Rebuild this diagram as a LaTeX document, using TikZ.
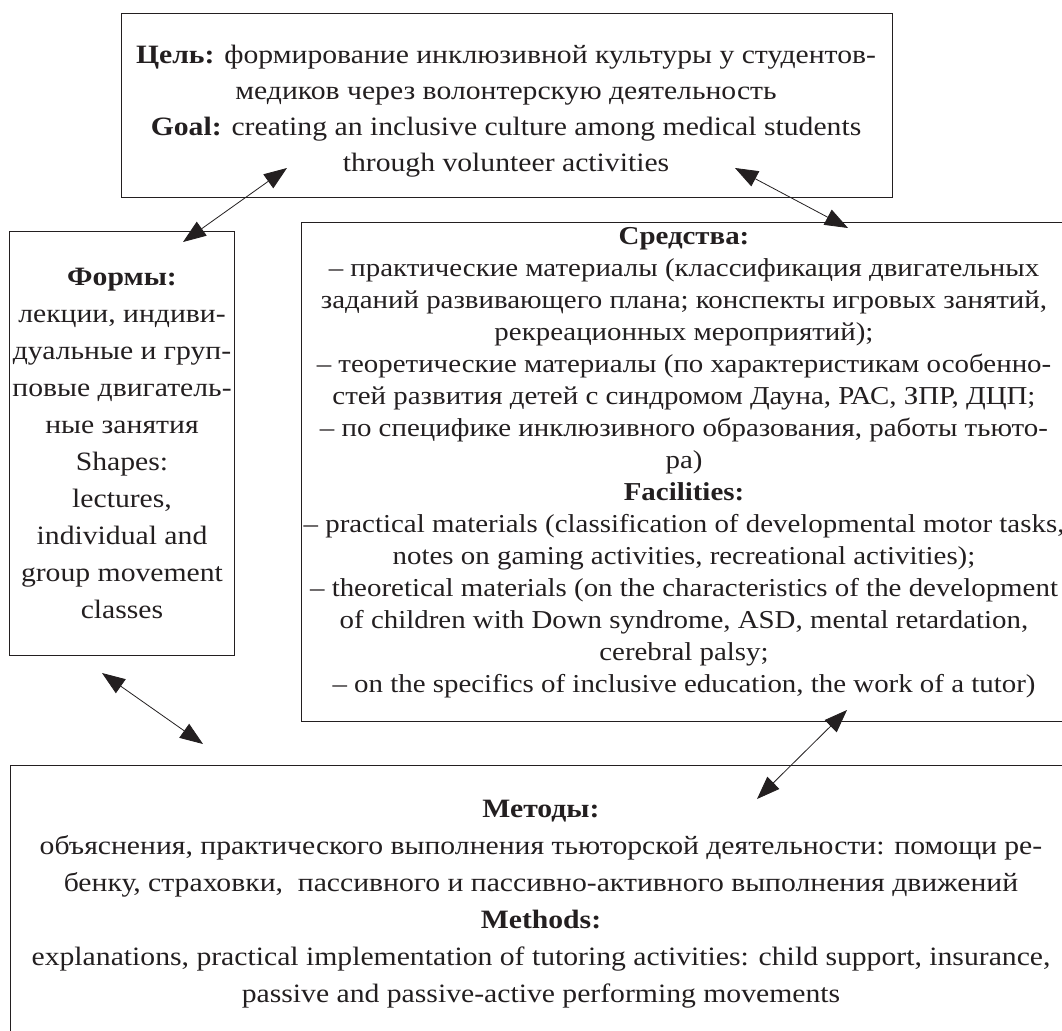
\documentclass[tikz,border=0pt]{standalone}
\usepackage{fontspec}
\setmainfont[FakeStretch=1.12]{Liberation Serif}
\usetikzlibrary{arrows.meta}
\definecolor{ink}{HTML}{231F20}
\begin{document}
\begin{tikzpicture}[x=1pt,y=-1pt,
  box/.style={draw=ink, line width=1.1pt, inner sep=0pt, anchor=north west},
  txt/.style={inner sep=0pt, align=center, text=ink, anchor=north},
  dbl/.style={line width=0.8pt, draw=ink,
    {Triangle[length=23pt,width=17pt]}-{Triangle[length=23pt,width=17pt]}}]
\useasboundingbox (0,0) rectangle (1062,1030);
\clip (0,0) rectangle (1062,1030);
\fill[white] (0,0) rectangle (1062,1030);
% boxes
\node[box, minimum width=771pt, minimum height=184pt] (goalbox) at (121,13) {};
\node[box, minimum width=225pt, minimum height=424pt] (formbox) at (9,231) {};
\node[box, minimum width=766pt, minimum height=499pt] (meanbox) at (301,222) {};
\node[box, minimum width=1062pt, minimum height=285pt] (methbox) at (10,765) {};
% texts
\node[txt, font=\fontsize{26.5}{36}\selectfont] (goaltxt) at (506,45)
{\textbf{Цель:} формирование инклюзивной культуры у студентов-\\
медиков через волонтерскую деятельность\\
\textbf{Goal:} creating an inclusive culture among medical students\\
through volunteer activities};
\node[txt, font=\fontsize{26.5}{37}\selectfont] (formtxt) at (122,268)
{\textbf{Формы:}\\
лекции, индиви-\\
дуальные и груп-\\
повые двигатель-\\
ные занятия\\
Shapes:\\
lectures,\\
individual and\\
group movement\\
classes};
\node[txt, font=\fontsize{25.8}{32}\selectfont] (meantxt) at (684,227)
{\textbf{Средства:}\\
– практические материалы (классификация двигательных\\
заданий развивающего плана; конспекты игровых занятий,\\
рекреационных мероприятий);\\
– теоретические материалы (по характеристикам особенно-\\
стей развития детей с синдромом Дауна, РАС, ЗПР, ДЦП;\\
– по специфике инклюзивного образования, работы тьюто-\\
ра)\\
\textbf{Facilities:}\\
– practical materials (classification of developmental motor tasks,\\
notes on gaming activities, recreational activities);\\
– theoretical materials (on the characteristics of the development\\
of children with Down syndrome, ASD, mental retardation,\\
cerebral palsy;\\
– on the specifics of inclusive education, the work of a tutor)};
\node[txt, font=\fontsize{26.5}{37}\selectfont] (methtxt) at (541,800)
{\textbf{Методы:}\\
объяснения, практического выполнения тьюторской деятельности: помощи ре-\\
бенку, страховки,\ \ пассивного и пассивно-активного выполнения движений\\
\textbf{Methods:}\\
explanations, practical implementation of tutoring activities: child support, insurance,\\
passive and passive-active performing movements};
% arrow ends
\coordinate (a1s) at (287,168);
\coordinate (a1e) at (183,242);
\coordinate (a2s) at (735,168);
\coordinate (a2e) at (848,228);
\coordinate (a3s) at (102,673);
\coordinate (a3e) at (203,744);
\coordinate (a4s) at (847,710);
\coordinate (a4e) at (757,799);
\draw[dbl] (a1s) -- (a1e);
\draw[dbl] (a2s) -- (a2e);
\draw[dbl] (a3s) -- (a3e);
\draw[dbl] (a4s) -- (a4e);
\end{tikzpicture}
\end{document}
